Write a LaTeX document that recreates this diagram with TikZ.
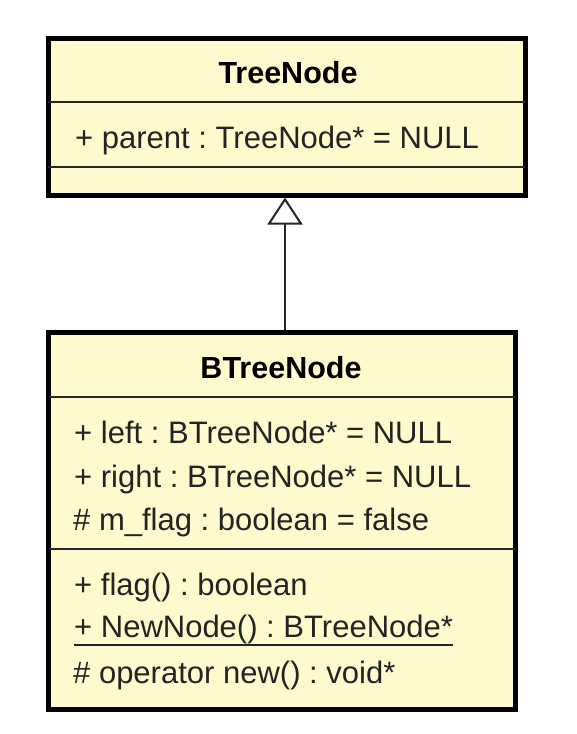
\documentclass[tikz,border=0pt]{standalone}
\usepackage{fontspec}
\setmainfont{Liberation Sans}
\usetikzlibrary{arrows.meta}
\definecolor{umlfill}{RGB}{255,250,205}
\definecolor{umltext}{RGB}{35,35,35}
\frenchspacing
\begin{document}
\begin{tikzpicture}[x=1pt,y=-1pt,
  classbox/.style={draw=black, fill=umlfill, line width=5pt, rectangle, inner sep=0pt},
  sepline/.style={draw=black!85, line width=1.6pt},
  title/.style={anchor=base, inner sep=0pt, text=black, font=\fontsize{30.5}{36}\selectfont\bfseries},
  member/.style={anchor=base west, inner sep=0pt, text=umltext, font=\fontsize{31}{37}\selectfont},
  inherit/.style={draw=black!85, line width=2pt, -{Triangle[open, length=27pt, width=35pt, line width=2pt, fill=white]}}
]
\useasboundingbox (0,0) rectangle (576,734);
\fill[white] (0,0) rectangle (576,734);

% TreeNode
\node[classbox, minimum width=477pt, minimum height=157pt] (tree) at (286.5,116.5) {};
\draw[sepline] (48,102) -- (525,102);
\draw[sepline] (48,167) -- (525,167);
\node[title] (treetitle) at (288,83) {TreeNode};
\node[member] (parent) at (75,148) {+ parent : TreeNode* = NULL};

% BTreeNode
\node[classbox, minimum width=467pt, minimum height=377pt] (btree) at (282,520.5) {};
\draw[sepline] (48.5,397) -- (515.5,397);
\draw[sepline] (48.5,549) -- (515.5,549);
\node[title] (btreetitle) at (281,378) {BTreeNode};
\node[member] (left) at (74,443) {+ left : BTreeNode* = NULL};
\node[member] (right) at (74,487) {+ right : BTreeNode* = NULL};
\node[member] (mflag) at (73,530) {\# m\_flag : boolean = false};
\node[member] (flag) at (74,595) {+ flag() : boolean};
\node[member] (newnode) at (74,637) {+ NewNode() : BTreeNode*};
\draw[line width=1.6pt, umltext] ([yshift=-8pt]newnode.base west) -- ([yshift=-8pt]newnode.base east);
\node[member] (opnew) at (73,683) {\# operator new() : void*};

% generalization
\draw[inherit] (btree.north -| 285,0) -- (tree.south -| 285,0);
\end{tikzpicture}
\end{document}
